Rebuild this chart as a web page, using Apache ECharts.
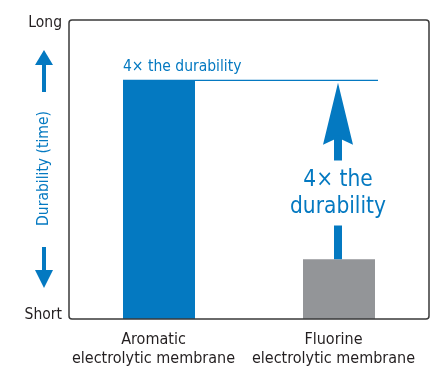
<!DOCTYPE html>
<html>
<head>
<meta charset="utf-8">
<script src="https://cdn.jsdelivr.net/npm/echarts@6/dist/echarts.min.js"></script>
<style>
html,body{margin:0;padding:0;background:#fff;}
#chart{width:446px;height:373px;}
</style>
</head>
<body>
<div id="chart"></div>
<script>
// ---- data ----
const categories = ['Aromatic\nelectrolytic membrane', 'Fluorine\nelectrolytic membrane'];
const durability = [80, 20];
const yTickLabels = ['Short', 'Long'];
const annotationSmall = '4\u00d7 the durability';
const annotationBig = ['4\u00d7 the', 'durability'];
const axisTitle = 'Durability (time)';

const BLUE = '#0479c1';
const GRAY = '#939598';
const DARK = '#231f20';
const FONT = '"DejaVu Sans Condensed", "Liberation Sans Narrow", "DejaVu Sans"';

const chart = echarts.init(document.getElementById('chart'), null, {renderer: 'canvas'});

const option = {
  animation: false,
  backgroundColor: '#fff',
  grid: {left: 69, top: 20, right: 17, bottom: 54, containLabel: false, outerBoundsMode: 'none'},
  xAxis: {
    type: 'category',
    data: categories,
    axisLine: {show: false},
    axisTick: {show: false},
    axisLabel: {
      color: DARK, fontFamily: FONT, fontSize: 16, lineHeight: 19, margin: 11,
      padding: [0, 11, 0, 0],
      interval: 0
    }
  },
  yAxis: {
    type: 'value',
    min: 0, max: 100, interval: 100,
    axisLine: {show: false},
    axisTick: {show: false},
    splitLine: {show: false},
    axisLabel: {
      margin: 7,
      formatter: function (v, i) { return i === 0 ? '{s|' + yTickLabels[0] + '}' : '{l|' + yTickLabels[1] + '}'; },
      rich: {
        s: {color: DARK, fontFamily: FONT, fontSize: 15.5, padding: [0, 0, 8, 0]},
        l: {color: DARK, fontFamily: FONT, fontSize: 15.5, padding: [6, 0, 0, 0]}
      }
    }
  },
  series: [
    {
      type: 'bar',
      barWidth: '40%',
      data: durability.map(function (v, i) {
        return {value: v, itemStyle: {color: i === 0 ? BLUE : GRAY}};
      }),
      z: 2
    },
    {
      type: 'custom',
      clip: false,
      silent: true,
      z: 3,
      data: [[0, durability[0], 1, durability[1]]],
      renderItem: function (params, api) {
        const p1 = api.coord([api.value(0), api.value(1)]);
        const p2 = api.coord([api.value(2), api.value(3)]);
        const bw = api.size([1, 0])[0];
        const barW = bw * 0.4;
        const gridLeft = p1[0] - bw / 2;
        const gridRight = p2[0] + bw / 2;
        const gridTop = api.coord([0, 100])[1];
        const gridBottom = api.coord([0, 0])[1];
        const ax = p2[0] - 1;
        const lineY = p1[1] + 0.5;
        const tipY = p1[1] + 3;
        const baseY = p1[1] + 65;
        const notchY = p1[1] + 58;
        const textMid = (p1[1] + p2[1]) / 2 + 24;
        const children = [];
        // frame
        children.push({type: 'rect', shape: {x: gridLeft, y: gridTop, width: gridRight - gridLeft, height: gridBottom - gridTop, r: 3},
          style: {fill: null, stroke: '#3a3a3a', lineWidth: 1.5}});
        // horizontal reference line
        children.push({type: 'line', shape: {x1: p1[0] + barW / 2, y1: lineY, x2: p2[0] + barW / 2 + 3, y2: lineY},
          style: {stroke: BLUE, lineWidth: 1.2}});
        // small annotation
        children.push({type: 'text', x: p1[0] - barW / 2, y: p1[1] - 5,
          style: {text: annotationSmall, fill: BLUE, fontFamily: FONT, fontSize: 15.5, align: 'left', verticalAlign: 'bottom'}});
        // arrow head
        children.push({type: 'polygon', shape: {points: [[ax, tipY], [ax + 15, baseY], [ax, notchY], [ax - 15, baseY]]},
          style: {fill: BLUE}});
        // shafts
        children.push({type: 'rect', shape: {x: ax - 4, y: notchY - 2, width: 8, height: textMid - 33 - notchY + 2}, style: {fill: BLUE}});
        children.push({type: 'rect', shape: {x: ax - 4, y: textMid + 32, width: 8, height: p2[1] - textMid - 32}, style: {fill: BLUE}});
        // big annotation
        children.push({type: 'text', x: ax, y: textMid - 13,
          style: {text: annotationBig[0], fill: BLUE, fontFamily: FONT, fontSize: 22.5, align: 'center', verticalAlign: 'middle'}});
        children.push({type: 'text', x: ax, y: textMid + 14,
          style: {text: annotationBig[1], fill: BLUE, fontFamily: FONT, fontSize: 22.5, align: 'center', verticalAlign: 'middle'}});
        // y-axis arrows + title
        const yx = gridLeft - 25;
        children.push({type: 'polygon', shape: {points: [[yx, gridTop + 30], [yx + 9, gridTop + 45], [yx - 9, gridTop + 45]]}, style: {fill: BLUE}});
        children.push({type: 'rect', shape: {x: yx - 2, y: gridTop + 44, width: 4, height: 28}, style: {fill: BLUE}});
        children.push({type: 'polygon', shape: {points: [[yx, gridBottom - 31], [yx + 9, gridBottom - 49], [yx - 9, gridBottom - 49]]}, style: {fill: BLUE}});
        children.push({type: 'rect', shape: {x: yx - 2, y: gridBottom - 72, width: 4, height: 24}, style: {fill: BLUE}});
        children.push({type: 'text', x: yx, y: (gridTop + gridBottom) / 2 - 1, rotation: Math.PI / 2,
          style: {text: axisTitle, fill: BLUE, fontFamily: FONT, fontSize: 15.5, align: 'center', verticalAlign: 'middle'}});
        return {type: 'group', children: children};
      }
    }
  ]
};
chart.setOption(option);
</script>
</body>
</html>
